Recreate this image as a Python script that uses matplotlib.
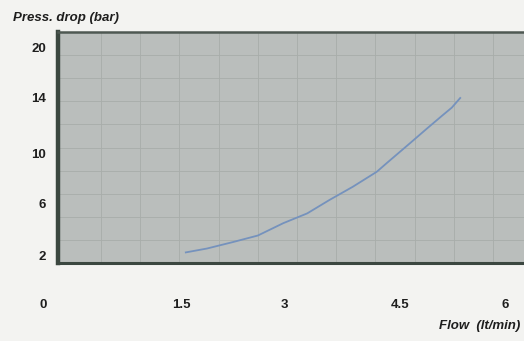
import numpy as np
import matplotlib
matplotlib.use("Agg")
import matplotlib.pyplot as plt
import matplotlib.transforms as mtrans

# catalogue curve: pressure drop vs flow
flow = [1.57, 1.88, 2.26, 2.62, 2.99, 3.30, 3.59, 3.89, 4.20, 4.33, 4.64, 4.89, 5.11, 5.24, 5.36]
press_drop = [2.2, 2.5, 3.0, 3.5, 4.45, 5.2, 6.25, 7.3, 8.5, 9.2, 10.7, 11.8, 12.75, 13.3, 14.0]

x_ticks = [0, 1.5, 3, 4.5, 6]
x_tick_labels = ["0", "1.5", "3", "4.5", "6"]
y_ticks = [2, 6, 10, 14, 20]
y_tick_labels = ["2", "6", "10", "14", "20"]

# the printed axes are not linear: where each tick value sits (in pixels)
x_tick_px = [43, 181, 284, 400, 505]
y_tick_px = [86, 138, 188, 243, 294]

W, H = 524, 341
FACE = "#babebc"
FRAME = "#3b4740"
GRID = "#a8adaa"
LINE = "#7592bd"
BG = "#f3f3f1"


def piecewise(vals, pix):
    vals = np.asarray(vals, float)
    pix = np.asarray(pix, float)

    def through(v, a, b):
        v = np.asarray(v, float)
        out = np.interp(v, a, b)
        lo_slope = (b[1] - b[0]) / (a[1] - a[0])
        hi_slope = (b[-1] - b[-2]) / (a[-1] - a[-2])
        out = np.where(v < a[0], b[0] + (v - a[0]) * lo_slope, out)
        out = np.where(v > a[-1], b[-1] + (v - a[-1]) * hi_slope, out)
        return out

    return (lambda v: through(v, vals, pix)), (lambda p: through(p, pix, vals))


fx, ix = piecewise(x_ticks, x_tick_px)
fy, iy = piecewise(y_ticks, y_tick_px)

fig = plt.figure(figsize=(W / 100, H / 100), dpi=100)
fig.patch.set_facecolor(BG)

left, right, bottom, top = 58, 545, 78, 309
rect = [left / W, bottom / H, (right - left) / W, (top - bottom) / H]

# background grid, in pixel units
ax_bg = fig.add_axes(rect)
ax_bg.set_facecolor(FACE)
ax_bg.set_xlim(left, right)
ax_bg.set_ylim(bottom, top)
ax_bg.set_xticks(101 + 39.2 * np.arange(12))
ax_bg.set_yticks(bottom + 23.1 * np.arange(1, 10))
ax_bg.grid(True, color=GRID, linewidth=0.6)
ax_bg.tick_params(length=0, labelbottom=False, labelleft=False)
for s in ax_bg.spines.values():
    s.set_visible(False)

ax = fig.add_axes(rect)
ax.set_facecolor("none")
ax.set_xscale("function", functions=(fx, ix))
ax.set_yscale("function", functions=(fy, iy))
ax.set_xlim(ix(left), ix(right))
ax.set_ylim(iy(bottom), iy(top))

ax.plot(flow, press_drop, color=LINE, linewidth=1.3)

ax.set_yticks(y_ticks)
ax.set_yticklabels(y_tick_labels, fontfamily="Liberation Sans", fontweight="bold", fontsize=9.5)
ax.tick_params(axis="y", length=0, pad=8.5, colors="#1e1e1e")
ax.set_xticks([])

trans = mtrans.blended_transform_factory(ax.transData, fig.transFigure)
for v, lab in zip(x_ticks, x_tick_labels):
    ax.text(v, 1 - 305 / H, lab, transform=trans, ha="center", va="center",
            fontfamily="Liberation Sans", fontweight="bold", fontsize=9.5,
            color="#1e1e1e", clip_on=False)

ax.spines["right"].set_visible(False)
ax.spines["left"].set_linewidth(3.2)
ax.spines["top"].set_linewidth(1.8)
ax.spines["bottom"].set_linewidth(2.2)
ax.spines["left"].set_color(FRAME)
ax.spines["bottom"].set_color(FRAME)
ax.spines["top"].set_color("#4e5852")

fig.text(13 / W, 1 - 18 / H, "Press. drop (bar)", ha="left", va="center",
         fontfamily="Liberation Sans", fontweight="bold", fontstyle="italic",
         fontsize=9.5, color="#1e1e1e")
fig.text(520 / W, 1 - 326 / H, "Flow  (lt/min)", ha="right", va="center",
         fontfamily="Liberation Sans", fontweight="bold", fontstyle="italic",
         fontsize=9.5, color="#1e1e1e")

fig.savefig("out.png", dpi=100, facecolor=BG)
